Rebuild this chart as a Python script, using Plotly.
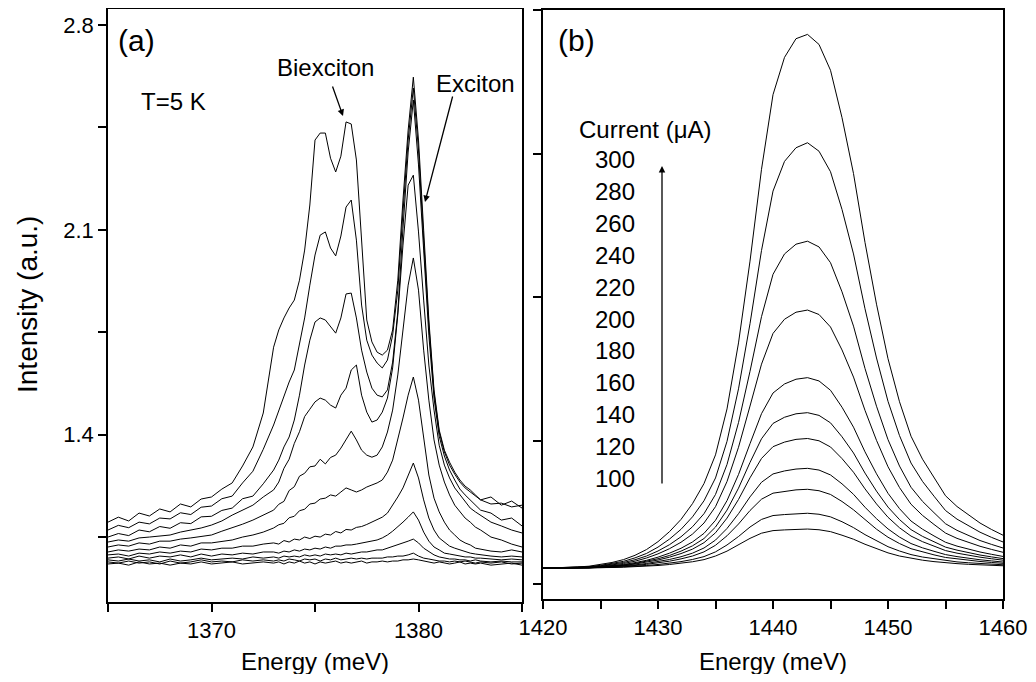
import plotly.graph_objects as go

# ---------------- Panel (a): T = 5 K spectra, 11 currents ----------------
energy_a = [1365.0, 1365.5, 1366.0, 1366.5, 1367.0, 1367.5, 1368.0, 1368.5, 1369.0, 1369.5,
            1370.0, 1370.5, 1371.0, 1371.5, 1372.0, 1372.5,
            1373.0, 1373.25, 1373.5, 1373.75, 1374.0, 1374.25, 1374.5, 1374.75, 1375.0, 1375.25,
            1375.5, 1375.75, 1376.0, 1376.25, 1376.5, 1376.75, 1377.0, 1377.25, 1377.5, 1377.75,
            1378.0, 1378.25, 1378.5, 1378.75, 1379.0, 1379.25, 1379.5, 1379.75, 1380.0, 1380.25,
            1380.5, 1380.75, 1381.0, 1381.25, 1381.5, 1381.75, 1382.0, 1382.25, 1382.5, 1382.75,
            1383.0, 1383.5, 1384.0, 1384.5, 1385.0]

int_a_300 = [1.101, 1.118, 1.105, 1.132, 1.122, 1.146, 1.136, 1.163, 1.153, 1.180, 1.187, 1.214, 1.235, 1.293, 1.358, 1.474,
             1.699, 1.758, 1.799, 1.833, 1.860, 1.928, 2.031, 2.185, 2.407, 2.431, 2.431, 2.345, 2.298, 2.352, 2.469, 2.462,
             2.339, 2.065, 1.792, 1.717, 1.682, 1.672, 1.689, 1.758, 1.928, 2.202, 2.441, 2.622, 2.407, 2.099, 1.792, 1.553,
             1.416, 1.347, 1.306, 1.272, 1.245, 1.224, 1.211, 1.194,
             1.177, 1.187, 1.159, 1.173, 1.149]
int_a_280 = [1.074, 1.090, 1.082, 1.101, 1.095, 1.115, 1.112, 1.133, 1.127, 1.152, 1.156, 1.181, 1.190, 1.235, 1.275, 1.350,
             1.433, 1.484, 1.535, 1.580, 1.621, 1.706, 1.799, 1.911, 2.014, 2.082, 2.093, 2.038, 2.011, 2.079, 2.178, 2.202,
             2.065, 1.843, 1.723, 1.672, 1.645, 1.628, 1.655, 1.740, 1.894, 2.161, 2.407, 2.585, 2.373, 2.065, 1.775, 1.542,
             1.409, 1.341, 1.296, 1.265, 1.238, 1.218, 1.204, 1.190,
             1.177, 1.163, 1.166, 1.153, 1.159]
int_a_260 = [1.050, 1.062, 1.055, 1.074, 1.068, 1.086, 1.080, 1.099, 1.096, 1.119, 1.121, 1.141, 1.149, 1.181, 1.190, 1.232,
             1.279, 1.313, 1.358, 1.392, 1.450, 1.535, 1.638, 1.723, 1.785, 1.799, 1.792, 1.768, 1.747, 1.799, 1.881, 1.884,
             1.799, 1.689, 1.614, 1.559, 1.535, 1.529, 1.553, 1.648, 1.819, 2.106, 2.366, 2.544, 2.322, 2.031, 1.740, 1.525,
             1.395, 1.327, 1.279, 1.245, 1.214, 1.194, 1.177, 1.159,
             1.142, 1.132, 1.108, 1.115, 1.088]
int_a_240 = [1.033, 1.040, 1.036, 1.047, 1.050, 1.053, 1.057, 1.067, 1.074, 1.081, 1.091, 1.105, 1.125, 1.142, 1.159, 1.187,
             1.211, 1.238, 1.285, 1.316, 1.370, 1.410, 1.462, 1.487, 1.512, 1.525, 1.518, 1.501, 1.491, 1.535, 1.559, 1.621,
             1.638, 1.535, 1.477, 1.443, 1.450, 1.477, 1.525, 1.628, 1.809, 2.048, 2.253, 2.287, 2.093, 1.860, 1.638, 1.484,
             1.364, 1.296, 1.252, 1.218, 1.194, 1.170, 1.149, 1.136,
             1.125, 1.101, 1.088, 1.074, 1.064]
int_a_220 = [1.016, 1.023, 1.019, 1.030, 1.026, 1.036, 1.036, 1.043, 1.047, 1.053, 1.057, 1.070, 1.081, 1.094, 1.108, 1.125,
             1.142, 1.162, 1.172, 1.209, 1.222, 1.258, 1.268, 1.290, 1.293, 1.316, 1.300, 1.322, 1.330, 1.354, 1.382, 1.412,
             1.382, 1.347, 1.330, 1.323, 1.330, 1.358, 1.409, 1.484, 1.604, 1.758, 1.911, 2.004, 1.894, 1.689, 1.518, 1.382,
             1.296, 1.238, 1.194, 1.159, 1.136, 1.115, 1.101, 1.084,
             1.074, 1.050, 1.040, 1.026, 1.016]
int_a_200 = [0.999, 1.006, 1.002, 1.009, 1.006, 1.016, 1.012, 1.023, 1.019, 1.030, 1.030, 1.036, 1.040, 1.050, 1.057, 1.067,
             1.081, 1.092, 1.097, 1.116, 1.121, 1.140, 1.145, 1.163, 1.166, 1.180, 1.183, 1.194, 1.190, 1.204, 1.218, 1.211,
             1.204, 1.211, 1.221, 1.228, 1.235, 1.245, 1.272, 1.313, 1.382, 1.457, 1.535, 1.597, 1.518, 1.382, 1.262, 1.183,
             1.136, 1.101, 1.074, 1.057, 1.040, 1.030, 1.023, 1.012,
             1.009, 1.002, 0.999, 1.006, 0.999]
int_a_180 = [0.989, 0.992, 0.985, 0.995, 0.992, 0.999, 0.995, 1.002, 0.999, 1.009, 1.006, 1.012, 1.012, 1.019, 1.019, 1.026,
             1.030, 1.026, 1.038, 1.033, 1.043, 1.040, 1.050, 1.045, 1.053, 1.050, 1.060, 1.057, 1.069, 1.064, 1.076, 1.074,
             1.083, 1.086, 1.093, 1.101, 1.108, 1.118, 1.132, 1.159, 1.187, 1.218, 1.262, 1.303, 1.252, 1.177, 1.115, 1.074,
             1.047, 1.033, 1.019, 1.012, 1.006, 0.999, 0.995, 0.992,
             0.989, 0.985, 0.982, 0.985, 0.982]
int_a_160 = [0.978, 0.982, 0.975, 0.985, 0.978, 0.985, 0.982, 0.989, 0.982, 0.992, 0.985, 0.992, 0.989, 0.995, 0.992, 0.999,
             0.999, 0.995, 1.002, 0.999, 1.006, 1.002, 1.009, 1.006, 1.012, 1.009, 1.016, 1.012, 1.019, 1.019, 1.023, 1.023,
             1.026, 1.030, 1.033, 1.036, 1.040, 1.047, 1.057, 1.070, 1.084, 1.101, 1.118, 1.136, 1.108, 1.067, 1.036, 1.016,
             1.006, 0.995, 0.992, 0.989, 0.985, 0.982, 0.982, 0.978,
             0.978, 0.975, 0.972, 0.975, 0.972]
int_a_140 = [0.972, 0.968, 0.975, 0.968, 0.972, 0.965, 0.975, 0.968, 0.972, 0.978, 0.972, 0.975, 0.978, 0.975, 0.982, 0.978,
             0.982, 0.978, 0.985, 0.982, 0.985, 0.982, 0.989, 0.985, 0.989, 0.985, 0.992, 0.989, 0.992, 0.989, 0.995, 0.992,
             0.995, 0.999, 0.999, 1.002, 1.006, 1.006, 1.012, 1.016, 1.023, 1.030, 1.036, 1.043, 1.030, 1.012, 0.999, 0.989,
             0.982, 0.978, 0.975, 0.975, 0.972, 0.972, 0.968, 0.972,
             0.968, 0.965, 0.968, 0.965, 0.965]
int_a_120 = [0.965, 0.961, 0.968, 0.961, 0.965, 0.958, 0.968, 0.961, 0.965, 0.972, 0.965, 0.968, 0.965, 0.972, 0.968, 0.972,
             0.968, 0.972, 0.968, 0.975, 0.972, 0.968, 0.975, 0.972, 0.975, 0.968, 0.975, 0.972, 0.978, 0.972, 0.975, 0.978,
             0.975, 0.978, 0.975, 0.978, 0.978, 0.978, 0.982, 0.982, 0.985, 0.985, 0.989, 0.995, 0.985, 0.978, 0.975, 0.972,
             0.968, 0.968, 0.965, 0.968, 0.965, 0.968, 0.965, 0.961,
             0.965, 0.961, 0.965, 0.958, 0.961]
int_a_100 = [0.958, 0.961, 0.954, 0.965, 0.958, 0.961, 0.954, 0.961, 0.958, 0.965, 0.958, 0.961, 0.965, 0.958, 0.961, 0.965,
             0.961, 0.965, 0.958, 0.965, 0.961, 0.968, 0.961, 0.965, 0.958, 0.965, 0.961, 0.965, 0.968, 0.961, 0.965, 0.961,
             0.965, 0.968, 0.961, 0.965, 0.965, 0.968, 0.965, 0.968, 0.968, 0.972, 0.972, 0.975, 0.972, 0.968, 0.965, 0.961,
             0.965, 0.961, 0.958, 0.961, 0.965, 0.958, 0.961, 0.958,
             0.961, 0.954, 0.958, 0.961, 0.954]

series_a = [int_a_100, int_a_120, int_a_140, int_a_160, int_a_180, int_a_200,
            int_a_220, int_a_240, int_a_260, int_a_280, int_a_300]

# ---------------- Panel (b): 1420-1460 meV, 11 currents ----------------
energy_b = [1420, 1421, 1422, 1423, 1424, 1425, 1426, 1427, 1428, 1429,
            1430, 1431, 1432, 1433, 1434, 1435, 1436, 1437, 1438, 1439,
            1440, 1441, 1442, 1443, 1444, 1445, 1446, 1447, 1448, 1449,
            1450, 1451, 1452, 1453, 1454, 1455, 1456, 1457, 1458, 1459, 1460]

int_b_300 = [0.110, 0.112, 0.115, 0.119, 0.124, 0.135, 0.150, 0.170, 0.200, 0.240,
             0.295, 0.365, 0.450, 0.560, 0.700, 0.900, 1.220, 1.680, 2.250, 2.890,
             3.410, 3.670, 3.800, 3.830, 3.760, 3.580, 3.250, 2.860, 2.380, 1.950,
             1.570, 1.270, 1.030, 0.870, 0.740, 0.615, 0.540, 0.480, 0.425, 0.380, 0.340]
int_b_280 = [0.110, 0.112, 0.114, 0.117, 0.121, 0.130, 0.142, 0.158, 0.182, 0.213,
             0.257, 0.313, 0.381, 0.468, 0.580, 0.739, 0.994, 1.360, 1.814, 2.324,
             2.738, 2.945, 3.040, 3.075, 3.016, 2.873, 2.610, 2.300, 1.918, 1.575,
             1.273, 1.034, 0.843, 0.715, 0.612, 0.512, 0.452, 0.405, 0.361, 0.325, 0.293]
int_b_260 = [0.110, 0.111, 0.113, 0.116, 0.119, 0.127, 0.136, 0.150, 0.169, 0.195,
             0.230, 0.274, 0.329, 0.399, 0.490, 0.624, 0.833, 1.125, 1.482, 1.863,
             2.158, 2.300, 2.368, 2.389, 2.349, 2.239, 2.036, 1.797, 1.502, 1.239,
             1.006, 0.822, 0.674, 0.576, 0.497, 0.420, 0.374, 0.337, 0.303, 0.276, 0.251]
int_b_240 = [0.110, 0.111, 0.112, 0.114, 0.117, 0.124, 0.132, 0.143, 0.159, 0.181,
             0.210, 0.246, 0.291, 0.348, 0.425, 0.539, 0.714, 0.953, 1.240, 1.532,
             1.746, 1.845, 1.894, 1.909, 1.878, 1.791, 1.631, 1.442, 1.210, 1.001,
             0.817, 0.672, 0.556, 0.478, 0.415, 0.355, 0.318, 0.289, 0.263, 0.241, 0.221]
int_b_220 = [0.110, 0.111, 0.112, 0.113, 0.115, 0.121, 0.128, 0.136, 0.149, 0.165,
             0.187, 0.215, 0.249, 0.293, 0.353, 0.444, 0.581, 0.763, 0.978, 1.187,
             1.331, 1.394, 1.427, 1.438, 1.415, 1.350, 1.232, 1.093, 0.921, 0.768,
             0.632, 0.525, 0.439, 0.382, 0.335, 0.291, 0.264, 0.242, 0.223, 0.207, 0.192]
int_b_200 = [0.110, 0.111, 0.111, 0.113, 0.114, 0.120, 0.125, 0.133, 0.143, 0.158,
             0.176, 0.199, 0.229, 0.266, 0.317, 0.397, 0.515, 0.668, 0.847, 1.012,
             1.119, 1.162, 1.186, 1.194, 1.175, 1.123, 1.026, 0.913, 0.773, 0.647,
             0.536, 0.449, 0.379, 0.332, 0.294, 0.257, 0.236, 0.218, 0.202, 0.189, 0.177]
int_b_180 = [0.110, 0.110, 0.111, 0.112, 0.113, 0.119, 0.123, 0.130, 0.139, 0.151,
             0.167, 0.187, 0.212, 0.243, 0.288, 0.357, 0.459, 0.589, 0.740, 0.875,
             0.957, 0.989, 1.008, 1.014, 0.998, 0.955, 0.874, 0.779, 0.663, 0.558,
             0.465, 0.392, 0.334, 0.295, 0.263, 0.233, 0.215, 0.200, 0.187, 0.176, 0.166]
int_b_160 = [0.110, 0.110, 0.111, 0.112, 0.113, 0.117, 0.121, 0.126, 0.133, 0.143,
             0.155, 0.171, 0.190, 0.215, 0.251, 0.306, 0.387, 0.490, 0.607, 0.709,
             0.767, 0.788, 0.801, 0.806, 0.794, 0.760, 0.698, 0.625, 0.535, 0.455,
             0.384, 0.327, 0.282, 0.252, 0.228, 0.205, 0.191, 0.179, 0.169, 0.161, 0.153]
int_b_140 = [0.110, 0.110, 0.111, 0.111, 0.112, 0.116, 0.119, 0.123, 0.129, 0.137,
             0.147, 0.159, 0.175, 0.195, 0.224, 0.270, 0.336, 0.418, 0.512, 0.591,
             0.633, 0.647, 0.656, 0.660, 0.650, 0.624, 0.575, 0.517, 0.446, 0.382,
             0.326, 0.282, 0.246, 0.223, 0.203, 0.185, 0.174, 0.165, 0.157, 0.150, 0.144]
int_b_120 = [0.110, 0.110, 0.110, 0.111, 0.111, 0.114, 0.116, 0.119, 0.123, 0.129,
             0.136, 0.145, 0.156, 0.171, 0.191, 0.224, 0.272, 0.331, 0.397, 0.450,
             0.477, 0.484, 0.490, 0.493, 0.486, 0.468, 0.434, 0.393, 0.344, 0.300,
             0.260, 0.230, 0.205, 0.188, 0.175, 0.162, 0.154, 0.148, 0.142, 0.138, 0.134]
int_b_100 = [0.110, 0.110, 0.110, 0.111, 0.111, 0.113, 0.115, 0.117, 0.120, 0.124,
             0.129, 0.136, 0.144, 0.155, 0.170, 0.195, 0.229, 0.272, 0.318, 0.354,
             0.372, 0.377, 0.381, 0.383, 0.378, 0.365, 0.340, 0.312, 0.277, 0.245,
             0.217, 0.195, 0.178, 0.166, 0.156, 0.147, 0.142, 0.137, 0.133, 0.130, 0.127]

series_b = [int_b_100, int_b_120, int_b_140, int_b_160, int_b_180, int_b_200,
            int_b_220, int_b_240, int_b_260, int_b_280, int_b_300]

current_labels = ["300", "280", "260", "240", "220", "200", "180", "160", "140", "120", "100"]

# tick labels
xa_tickvals = [1365, 1370, 1375, 1380, 1385]
xa_ticktext = ["", "1370", "", "1380", ""]
ya_tickvals = [1.05, 1.4, 1.75, 2.1, 2.45, 2.8]
ya_ticktext = ["", "1.4", "", "2.1", "", "2.8"]
xb_tickvals = [1420, 1425, 1430, 1435, 1440, 1445, 1450, 1455, 1460]
xb_ticktext = ["1420", "", "1430", "", "1440", "", "1450", "", "1460"]
yb_tickvals = [0, 1, 2, 3, 4]

# ---------------- Figure ----------------
# The page body has an 8 px margin, so window pixel (X, Y) maps to
# figure pixel (X - 8, Y - 8).
OFF = 8
W, H = 1036 - OFF, 682 - 2 * OFF
FONT = "Liberation Sans, Arial, Helvetica, sans-serif"

fig = go.Figure()
for s in series_a:
    fig.add_trace(go.Scatter(x=energy_a, y=s, mode="lines", xaxis="x", yaxis="y",
                             line=dict(color="black", width=1), hoverinfo="skip"))
for s in series_b:
    fig.add_trace(go.Scatter(x=energy_b, y=s, mode="lines", xaxis="x2", yaxis="y2",
                             line=dict(color="black", width=1), hoverinfo="skip"))

def px(x):
    return (x - OFF) / W

def py(y):
    return 1 - (y - OFF) / H

main_ax = dict(showline=True, linecolor="black", linewidth=1.5, mirror=True,
               ticks="outside", ticklen=8, tickwidth=1.5, tickcolor="black",
               showgrid=False, zeroline=False, automargin=False,
               tickfont=dict(family=FONT, size=22, color="black"))
mirror_ax = dict(showline=False, ticks="outside", ticklen=3, tickwidth=1.5, tickcolor="black",
                 showgrid=False, zeroline=False, automargin=False, showticklabels=False)

ya_range = [0.828, 2.854]
yb_range = [-0.1045, 4.0]

fig.update_layout(
    width=W, height=H,
    margin=dict(l=0, r=0, t=0, b=0, autoexpand=False),
    paper_bgcolor="white", plot_bgcolor="white",
    showlegend=False,
    font=dict(family=FONT, color="black"),
    xaxis=dict(domain=[px(108), px(522)], range=[1365, 1385], anchor="y",
               tickvals=xa_tickvals, ticktext=xa_ticktext, **main_ax),
    yaxis=dict(domain=[py(602), py(9.3)], range=ya_range, anchor="x",
               tickvals=ya_tickvals, ticktext=ya_ticktext, **main_ax),
    xaxis2=dict(domain=[px(543), px(1003)], range=[1420, 1460], anchor="y2",
                tickvals=xb_tickvals, ticktext=xb_ticktext, **main_ax),
    yaxis2=dict(domain=[py(599), py(10)], range=yb_range, anchor="x2",
                tickvals=yb_tickvals, showticklabels=False,
                **{k: v for k, v in main_ax.items() if k != "tickfont"}),
    # short mirrored ticks on the top / right sides
    xaxis3=dict(overlaying="x", anchor="y", side="top", range=[1365, 1385],
                tickvals=xa_tickvals, **mirror_ax),
    yaxis3=dict(overlaying="y", anchor="x", side="right", range=ya_range,
                tickvals=ya_tickvals, **mirror_ax),
    xaxis4=dict(overlaying="x2", anchor="y2", side="top", range=[1420, 1460],
                tickvals=xb_tickvals, **mirror_ax),
    yaxis4=dict(overlaying="y2", anchor="x2", side="right", range=yb_range,
                tickvals=yb_tickvals, **mirror_ax),
)

ann = []
def text(t, x, y, size=24, xanchor="left", yanchor="middle", angle=0):
    ann.append(dict(text=t, x=px(x), y=py(y), xref="paper", yref="paper", showarrow=False,
                    xanchor=xanchor, yanchor=yanchor, textangle=angle,
                    font=dict(family=FONT, size=size, color="black")))

def arrow(hx, hy, tx, ty):
    ann.append(dict(text="", x=px(hx), y=py(hy), xref="paper", yref="paper",
                    ax=tx - hx, ay=ty - hy, axref="pixel", ayref="pixel",
                    showarrow=True, arrowhead=2, arrowsize=1, arrowwidth=1.3, arrowcolor="black"))

text("(a)", 116, 40, size=30)
text("T=5 K", 139, 101)
text("Biexciton", 325, 68, xanchor="center")
text("Exciton", 475, 84, xanchor="center")
arrow(343, 116, 332, 85)
arrow(425, 202, 453, 95)

text("(b)", 556, 40, size=30)
text("Current (μA)", 577, 130)
for i, lab in enumerate(current_labels):
    text(lab, 637, 160 + 31.8 * i, xanchor="right")
arrow(662, 166, 662, 485)

text("Energy (meV)", 315, 661, xanchor="center")
text("Energy (meV)", 773, 661, xanchor="center")
text("Intensity (a.u.)", 27, 305, size=28, xanchor="center", angle=-90)

fig.update_layout(annotations=ann)

fig.write_html("out.html")
